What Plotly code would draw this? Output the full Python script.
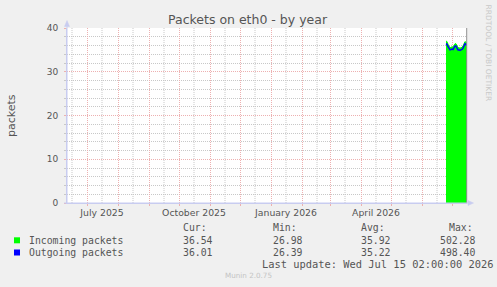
import plotly.graph_objects as go

# ---------------- data ----------------
dates = ["2026-06-25", "2026-06-26", "2026-06-27", "2026-06-28", "2026-06-29",
         "2026-06-30", "2026-07-01", "2026-07-02", "2026-07-03", "2026-07-04",
         "2026-07-05", "2026-07-06", "2026-07-07", "2026-07-08", "2026-07-09",
         "2026-07-10", "2026-07-11", "2026-07-12", "2026-07-13", "2026-07-14",
         "2026-07-15", "2026-07-16"]
outgoing = [36.4, 36.3, 35.8, 35.3, 35.0, 35.1, 35.2, 35.1, 35.4, 35.9, 35.9,
            35.3, 35.0, 35.0, 34.9, 35.0, 35.1, 35.4, 35.9, 36.4, 36.2, 36.0]
incoming = [37.0, 36.9, 36.3, 35.8, 35.5, 35.6, 35.7, 35.6, 35.9, 36.4, 36.4,
            35.8, 35.5, 35.5, 35.4, 35.5, 35.6, 35.9, 36.4, 36.9, 36.7, 36.5]

# month starts (major grid) and mid-month positions (minor grid)
month_starts = ["2025-07-01", "2025-08-01", "2025-09-01", "2025-10-01", "2025-11-01",
                "2025-12-01", "2026-01-01", "2026-02-01", "2026-03-01", "2026-04-01",
                "2026-05-01", "2026-06-01", "2026-07-01"]
mid_months = ["2025-06-16", "2025-07-16", "2025-08-16", "2025-09-16", "2025-10-16",
              "2025-11-16", "2025-12-16", "2026-01-16", "2026-02-16", "2026-03-16",
              "2026-04-16", "2026-05-16", "2026-06-16"]
label_dates = ["2025-07-16", "2025-10-16", "2026-01-16", "2026-04-16"]
label_text = ["July 2025", "October 2025", "January 2026", "April 2026"]
x_range = ["2025-06-11", "2026-07-16"]
y_range = [0, 40]

series_names = ["Incoming packets", "Outgoing packets"]
series_colors = ["#00FF00", "#0000FF"]
cur_vals = ["36.54", "36.01"]
min_vals = ["26.98", "26.39"]
avg_vals = ["35.92", "35.22"]
max_vals = ["502.28", "498.40"]

# ---------------- layout helpers ----------------
W_TOT, H_TOT = 497, 287
L, T, W, H = 67, 28, 400, 175


def px(x):
    return (x - L) / W


def py(y):
    return (T + H - y) / H


MAJ = "#EDB0B0"
MIN = "#C8C8C8"
AX = "#C8CCF0"
TXT = "#555555"
DASH = "1px,1px"

fig = go.Figure()

fig.add_trace(go.Scatter(x=dates, y=incoming, mode="lines", fill="tozeroy",
                         line=dict(color=series_colors[0], width=1),
                         fillcolor=series_colors[0], name=series_names[0],
                         hoverinfo="skip"))
fig.add_trace(go.Scatter(x=dates, y=outgoing, mode="lines",
                         line=dict(color=series_colors[1], width=1.5),
                         name=series_names[1], hoverinfo="skip"))
# invisible trace so that xaxis2 (labels) is drawn
fig.add_trace(go.Scatter(x=label_dates[:1], y=[0], xaxis="x2", mode="markers",
                         marker=dict(opacity=0), hoverinfo="skip", showlegend=False))

fig.update_layout(
    width=W_TOT, height=H_TOT,
    margin=dict(l=L, r=W_TOT - L - W, t=T, b=H_TOT - T - H, pad=0),
    paper_bgcolor="#F0F0F0", plot_bgcolor="#FFFFFF",
    showlegend=False,
    font=dict(family="DejaVu Sans", size=9, color=TXT),
    xaxis=dict(
        type="date", range=x_range, showticklabels=False,
        tickmode="array", tickvals=month_starts,
        showgrid=True, gridcolor=MAJ, griddash=DASH, gridwidth=1,
        ticks="outside", ticklen=2, tickcolor=MAJ,
        showline=True, linecolor=AX, linewidth=1, zeroline=False,
        layer="below traces",
    ),
    xaxis2=dict(
        type="date", range=x_range, overlaying="x", side="bottom",
        tickmode="array", tickvals=label_dates, ticktext=label_text,
        showgrid=False, ticks="", showline=False, zeroline=False,
        tickfont=dict(family="DejaVu Sans", size=9.3, color=TXT),
        ticklabelstandoff=3,
    ),
    yaxis=dict(
        range=y_range, dtick=10, tick0=0,
        showgrid=True, gridcolor=MAJ, griddash=DASH,
        ticks="outside", ticklen=2, tickcolor=MAJ,
        minor=dict(dtick=2, showgrid=True, gridcolor=MIN, griddash=DASH,
                   ticks="outside", ticklen=2, tickcolor=MIN),
        showline=True, linecolor=AX, linewidth=1, zeroline=False,
        tickfont=dict(family="DejaVu Sans", size=9, color=TXT),
        ticklabelstandoff=4,
        layer="below traces",
    ),
)

shapes = []
# minor vertical grid (mid-month), positioned on the date axis
for d in mid_months:
    shapes.append(dict(type="line", xref="x", yref="y", x0=d, x1=d,
                       y0=-0.45, y1=y_range[1], layer="above",
                       line=dict(color=MIN, width=1, dash=DASH)))
# right gray border line
shapes.append(dict(type="line", xref="paper", yref="paper", x0=px(466.7), x1=px(466.7),
                   y0=0, y1=1, line=dict(color="#909090", width=1)))
# axis extensions and arrows
shapes.append(dict(type="line", xref="paper", yref="paper", x0=0, x1=0,
                   y0=py(203), y1=py(25), line=dict(color=AX, width=1)))
shapes.append(dict(type="line", xref="paper", yref="paper", x0=px(64), x1=px(469),
                   y0=0, y1=0, line=dict(color=AX, width=1)))
shapes.append(dict(type="path", xref="paper", yref="paper",
                   path=f"M {px(64.5)} {py(26.5)} L {px(67)} {py(20.5)} L {px(69.5)} {py(26.5)} Z",
                   fillcolor=AX, line=dict(color=AX, width=0.5)))
shapes.append(dict(type="path", xref="paper", yref="paper",
                   path=f"M {px(468)} {py(200.5)} L {px(473.5)} {py(203)} L {px(468)} {py(205.5)} Z",
                   fillcolor=AX, line=dict(color=AX, width=0.5)))
# legend swatches
for i, c in enumerate(series_colors):
    y0 = 237.3 + i * 12.2
    shapes.append(dict(type="rect", xref="paper", yref="paper",
                       x0=px(14), x1=px(20), y0=py(y0 + 6), y1=py(y0),
                       fillcolor=c, line=dict(width=0)))
fig.update_layout(shapes=shapes)

ann = []


def text(x, y, s, size, color=TXT, family="DejaVu Sans", xanchor="left", angle=0):
    ann.append(dict(x=px(x), y=py(y), xref="paper", yref="paper", text=s,
                    showarrow=False, xanchor=xanchor, yanchor="middle",
                    textangle=angle,
                    font=dict(family=family, size=size, color=color)))


text(247.7, 19, "Packets on eth0 - by year", 12.5, color="#555555", xanchor="center")
text(11, 115, "packets", 11, xanchor="center", angle=-90)
text(488.5, 53, "RRDTOOL / TOBI OETIKER", 7.5, color="#C8C8C8", xanchor="center", angle=90)

MONO = "DejaVu Sans Mono"
MS = 9.8
text(181, 227.3, "Cur:", MS, family=MONO)
text(270.7, 227.3, "Min:", MS, family=MONO)
text(359.3, 227.3, "Avg:", MS, family=MONO)
text(447.3, 227.3, "Max:", MS, family=MONO)
for i in range(2):
    yy = 240 + i * 12.3
    text(26.7, yy, series_names[i], MS, family=MONO)
    text(181, yy, cur_vals[i], MS, family=MONO)
    text(270.7, yy, min_vals[i], MS, family=MONO)
    text(359.3, yy, avg_vals[i], MS, family=MONO)
    text(476.5, yy, max_vals[i], MS, family=MONO, xanchor="right")
text(495, 264.2, "Last update: Wed Jul 15 02:00:00 2026", 10.4, family=MONO, xanchor="right")
text(223, 275.7, "Munin 2.0.75", 7.2, color="#C4C4C4")

fig.update_layout(annotations=ann)

fig.write_html("out.html")
